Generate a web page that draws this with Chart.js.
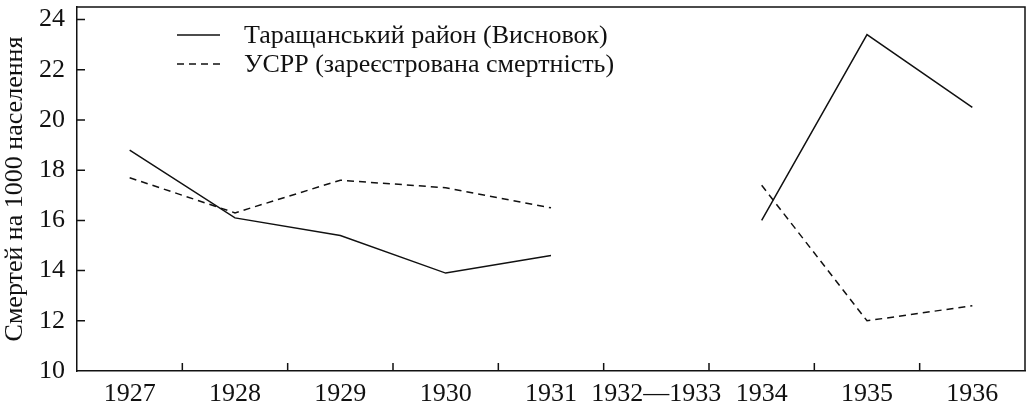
<!DOCTYPE html>
<html>
<head>
<meta charset="utf-8">
<script src="https://cdn.jsdelivr.net/npm/chart.js@4.4.1/dist/chart.umd.min.js"></script>
<style>
  html, body { margin: 0; padding: 0; background: #fff; }
  #wrap { width: 1027px; height: 410px; }
</style>
</head>
<body>
<div id="wrap"><canvas id="myChart"></canvas></div>
<script>
// Data
const years = ["1927", "1928", "1929", "1930", "1931", "1932\u20141933", "1934", "1935", "1936"];
const tarashchaValues = [18.8, 16.1, 15.4, 13.9, 14.6, null, 16.0, 23.4, 20.5];
const usrrValues = [17.7, 16.3, 17.6, 17.3, 16.5, null, 17.4, 12.0, 12.6];
const yTickValues = [10, 12, 14, 16, 18, 20, 22, 24];

const serif = "'Liberation Serif', 'Times New Roman', serif";
const ink = "#111";

// box on top/right + inward tick marks + legend inside the plot
const decorPlugin = {
  id: "decor",
  afterDraw(chart) {
    const { ctx, chartArea: a, scales: { x, y } } = chart;
    ctx.save();
    ctx.strokeStyle = ink;
    ctx.lineWidth = 1.5;
    ctx.beginPath();
    ctx.moveTo(a.left, a.top);
    ctx.lineTo(a.right, a.top);
    ctx.lineTo(a.right, a.bottom);
    // x ticks at category boundaries
    for (let i = 0; i < years.length - 1; i++) {
      const px = (x.getPixelForValue(i) + x.getPixelForValue(i + 1)) / 2;
      ctx.moveTo(px, a.bottom);
      ctx.lineTo(px, a.bottom - 8);
    }
    // y ticks
    yTickValues.forEach(v => {
      if (v === y.min) return;
      const py = y.getPixelForValue(v);
      ctx.moveTo(a.left, py);
      ctx.lineTo(a.left + 8, py);
    });
    ctx.stroke();

    // legend
    ctx.font = "26px " + serif;
    ctx.fillStyle = ink;
    ctx.textBaseline = "middle";
    chart.data.datasets.forEach((ds, i) => {
      const ly = a.top + 28 + i * 29;
      ctx.beginPath();
      ctx.lineWidth = ds.borderWidth;
      ctx.setLineDash(ds.borderDash || []);
      ctx.moveTo(a.left + 100, ly);
      ctx.lineTo(a.left + 143, ly);
      ctx.stroke();
      ctx.fillText(ds.label, a.left + 167, ly + 1);
    });
    ctx.restore();
  }
};

const config = {
  type: "line",
  data: {
    labels: years,
    datasets: [
      {
        label: "Таращанський район (Висновок)",
        data: tarashchaValues,
        borderColor: ink,
        borderWidth: 1.5,
        pointRadius: 0,
        tension: 0,
        spanGaps: false
      },
      {
        label: "УСРР (зареєстрована смертність)",
        data: usrrValues,
        borderColor: ink,
        borderWidth: 1.5,
        borderDash: [7, 5],
        pointRadius: 0,
        tension: 0,
        spanGaps: false
      }
    ]
  },
  options: {
    responsive: true,
    maintainAspectRatio: false,
    animation: false,
    layout: { padding: { top: 7, right: 2, left: 0, bottom: 0 } },
    plugins: {
      legend: { display: false },
      tooltip: { enabled: false }
    },
    scales: {
      x: {
        offset: true,
        grid: { display: false, drawTicks: false, offset: true },
        border: { display: true, color: ink, width: 1.5 },
        ticks: {
          color: ink,
          font: { family: serif, size: 26 },
          padding: 8,
          maxRotation: 0,
          autoSkip: false
        },
        afterFit(scale) {
          scale.height = 39;
          scale.paddingLeft = 0;
          scale.paddingRight = 0;
        }
      },
      y: {
        min: 10,
        max: 24.5,
        grid: { display: false, drawTicks: false },
        border: { display: true, color: ink, width: 1.5 },
        afterBuildTicks(scale) {
          scale.ticks = yTickValues.map(v => ({ value: v }));
        },
        ticks: {
          color: ink,
          font: { family: serif, size: 26 },
          padding: 12
        },
        title: {
          display: true,
          text: "Смертей на 1000 населення",
          color: ink,
          font: { family: serif, size: 26 },
          padding: { top: 0, bottom: 0 }
        },
        afterFit(scale) {
          scale.width = 77;
          scale.paddingTop = 0;
          scale.paddingBottom = 0;
        }
      }
    }
  },
  plugins: [decorPlugin]
};

const ctx = document.getElementById("myChart").getContext("2d");
const myChart = new Chart(ctx, config);
</script>
</body>
</html>
